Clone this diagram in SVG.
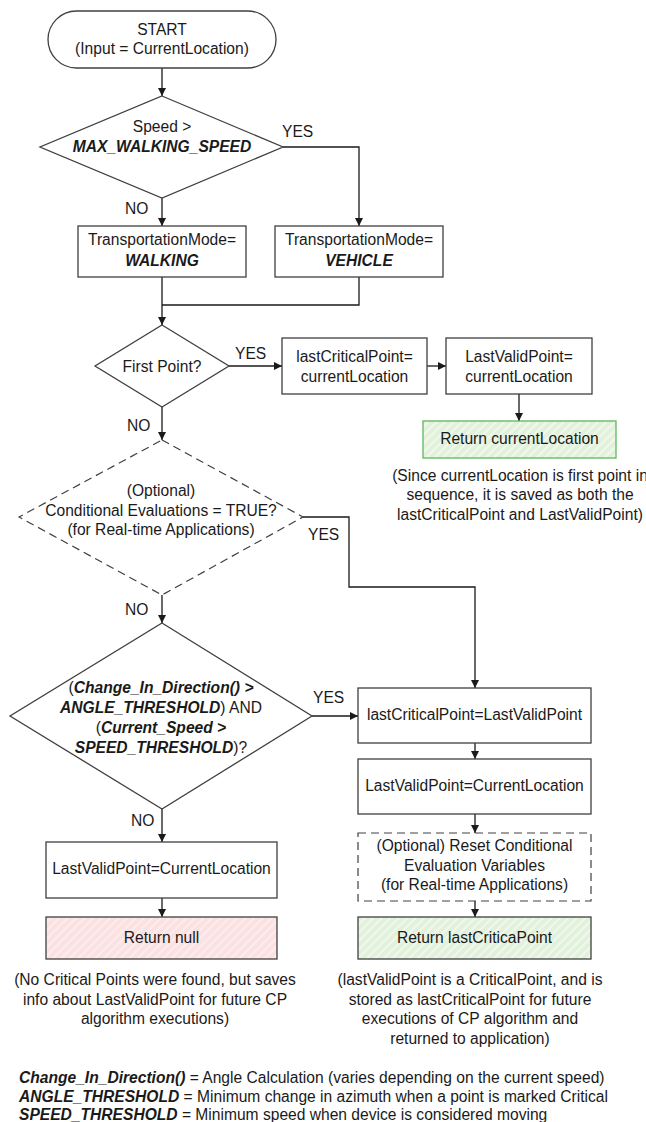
<svg xmlns="http://www.w3.org/2000/svg" width="646" height="1122" viewBox="0 0 646 1122">
<style>
text{font-family:"Liberation Sans",Arial,sans-serif;font-size:15.6px;fill:#1a1a1a;text-anchor:middle}
.l{text-anchor:start}
.bi{font-weight:bold;font-style:italic}
.n{fill:#fff;stroke:#404040;stroke-width:1.3}
.d{fill:#fff;stroke:#404040;stroke-width:1.2;stroke-dasharray:8,5}
.c{fill:none;stroke:#1a1a1a;stroke-width:1.3}
.a{marker-end:url(#ah)}
</style>
<defs>
<marker id="ah" markerUnits="userSpaceOnUse" markerWidth="8" markerHeight="8" refX="8" refY="4" orient="auto"><path d="M0,0 L8,4 L0,8 z" fill="#1a1a1a"/></marker>
<pattern id="hg" patternUnits="userSpaceOnUse" width="6" height="6" patternTransform="rotate(45)"><rect width="6" height="6" fill="#e2f1dc"/><line x1="1" y1="0" x2="1" y2="6" stroke="#f4faf1" stroke-width="1.6"/></pattern>
<pattern id="hr" patternUnits="userSpaceOnUse" width="6" height="6" patternTransform="rotate(45)"><rect width="6" height="6" fill="#fbe1e1"/><line x1="1" y1="0" x2="1" y2="6" stroke="#fdf1f1" stroke-width="1.6"/></pattern>
</defs>
<rect width="646" height="1122" fill="#fff"/>
<g id="connectors">
<path class="c a" d="M162,68 V96"/>
<path class="c a" d="M283,147 H359 V226"/>
<path class="c a" d="M162,198 V226"/>
<path class="c" d="M162,277 V305 M359,277 V305 H162"/>
<path class="c a" d="M162,305 V325"/>
<path class="c a" d="M229,366 H282"/>
<path class="c a" d="M427,366 H446"/>
<path class="c a" d="M519,394 V421"/>
<path class="c a" d="M162,407 V440"/>
<path class="c a" d="M303,517 H349 V587 H475 V688"/>
<path class="c a" d="M162,595 V623"/>
<path class="c a" d="M312,716 H358"/>
<path class="c a" d="M162,809 V842"/>
<path class="c a" d="M162,898 V917"/>
<path class="c a" d="M475,743 V759"/>
<path class="c a" d="M475,814 V833"/>
<path class="c a" d="M475,901 V917"/>
<text class="l" x="282" y="137">YES</text>
<text class="l" x="125" y="214">NO</text>
<text class="l" x="235" y="359">YES</text>
<text class="l" x="127" y="431">NO</text>
<text class="l" x="308" y="540">YES</text>
<text class="l" x="125" y="615">NO</text>
<text class="l" x="313" y="703">YES</text>
<text class="l" x="131" y="826">NO</text>
</g>
<g id="start">
<rect class="n" x="48" y="11" width="228" height="57" rx="28.5"/>
<text x="162" y="35">START</text>
<text x="162" y="54">(Input = CurrentLocation)</text>
</g>
<g id="speedDecision">
<polygon class="n" points="162,96 283,147 162,198 40,147"/>
<text x="162" y="132">Speed &gt;</text>
<text class="bi" x="162" y="152">MAX_WALKING_SPEED</text>
</g>
<g id="walking">
<rect class="n" x="78" y="226" width="168" height="51"/>
<text x="162" y="245">TransportationMode=</text>
<text class="bi" x="162" y="266">WALKING</text>
</g>
<g id="vehicle">
<rect class="n" x="275" y="226" width="168" height="51"/>
<text x="359" y="245">TransportationMode=</text>
<text class="bi" x="359" y="266">VEHICLE</text>
</g>
<g id="firstPoint">
<polygon class="n" points="162,325 229,366 162,407 95,366"/>
<text x="162" y="371.5">First Point?</text>
</g>
<g id="setCritical1">
<rect class="n" x="282" y="338" width="145" height="56"/>
<text x="354.5" y="361.5">lastCriticalPoint=</text>
<text x="354.5" y="382">currentLocation</text>
</g>
<g id="setValid1">
<rect class="n" x="446" y="338" width="146" height="56"/>
<text x="519" y="361.5">LastValidPoint=</text>
<text x="519" y="382">currentLocation</text>
</g>
<g id="returnCurrent">
<rect x="423" y="421" width="193" height="37" fill="url(#hg)" stroke="#5cb85c" stroke-width="1.3"/>
<text x="519.5" y="444">Return currentLocation</text>
</g>
<g id="noteFirst">
<text x="520" y="481">(Since currentLocation is first point in</text>
<text x="520" y="500">sequence, it is saved as both the</text>
<text x="520" y="520">lastCriticalPoint and LastValidPoint)</text>
</g>
<g id="conditionalEval">
<polygon class="d" points="162,440 303,517 162,595 19,517"/>
<text x="161" y="496">(Optional)</text>
<text x="161" y="516">Conditional Evaluations = TRUE?</text>
<text x="161" y="535">(for Real-time Applications)</text>
</g>
<g id="directionDecision">
<polygon class="n" points="162,623 312,716 162,809 10,716"/>
<text x="161" y="692.5">(<tspan class="bi">Change_In_Direction() &gt;</tspan></text>
<text x="161" y="712.5"><tspan class="bi">ANGLE_THRESHOLD</tspan>) AND</text>
<text x="161" y="732.5">(<tspan class="bi">Current_Speed &gt;</tspan></text>
<text x="161" y="752.5"><tspan class="bi">SPEED_THRESHOLD</tspan>)?</text>
</g>
<g id="setCritical2">
<rect class="n" x="358" y="688" width="233" height="55"/>
<text x="474.5" y="720">lastCriticalPoint=LastValidPoint</text>
</g>
<g id="setValid2">
<rect class="n" x="358" y="759" width="233" height="55"/>
<text x="474.5" y="791">LastValidPoint=CurrentLocation</text>
</g>
<g id="resetVars">
<rect class="d" x="358" y="833" width="233" height="68"/>
<text x="474.5" y="851">(Optional) Reset Conditional</text>
<text x="474.5" y="871">Evaluation Variables</text>
<text x="474.5" y="890">(for Real-time Applications)</text>
</g>
<g id="returnCritical">
<rect x="358" y="917" width="233" height="42" fill="url(#hg)" stroke="#404040" stroke-width="1.3"/>
<text x="474.5" y="943">Return lastCriticaPoint</text>
</g>
<g id="setValid3">
<rect class="n" x="46" y="842" width="231" height="56"/>
<text x="161.5" y="874">LastValidPoint=CurrentLocation</text>
</g>
<g id="returnNull">
<rect x="46" y="917" width="231" height="42" fill="url(#hr)" stroke="#404040" stroke-width="1.3"/>
<text x="161.5" y="943">Return null</text>
</g>
<g id="noteNull">
<text x="155" y="985">(No Critical Points were found, but saves</text>
<text x="155" y="1005">info about LastValidPoint for future CP</text>
<text x="155" y="1024">algorithm executions)</text>
</g>
<g id="noteCritical">
<text x="470" y="985">(lastValidPoint is a CriticalPoint, and is</text>
<text x="470" y="1005">stored as lastCriticalPoint for future</text>
<text x="470" y="1024">executions of CP algorithm and</text>
<text x="470" y="1043.5">returned to application)</text>
</g>
<g id="legend">
<text class="l" x="19" y="1083"><tspan class="bi">Change_In_Direction()</tspan> = Angle Calculation (varies depending on the current speed)</text>
<text class="l" x="19" y="1101.5"><tspan class="bi">ANGLE_THRESHOLD</tspan> = Minimum change in azimuth when a point is marked Critical</text>
<text class="l" x="19" y="1120"><tspan class="bi">SPEED_THRESHOLD</tspan> = Minimum speed when device is considered moving</text>
</g>
</svg>
